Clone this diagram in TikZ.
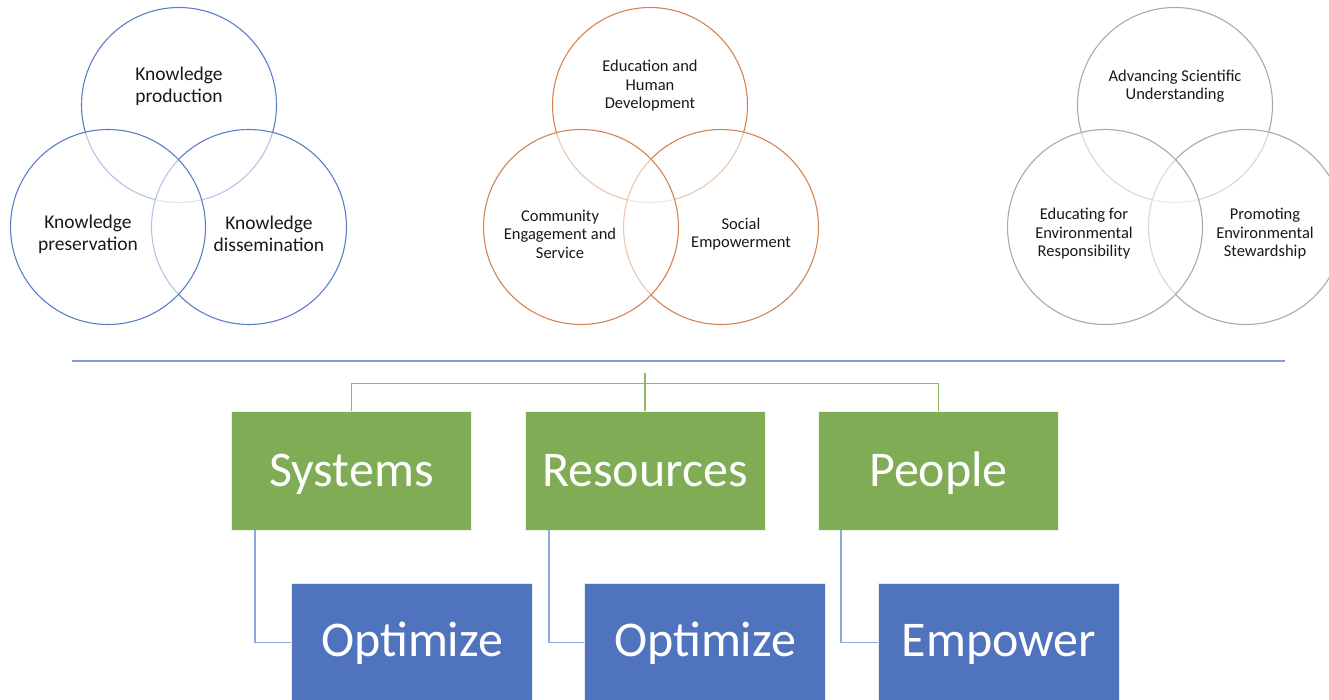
\documentclass[tikz,border=0pt]{standalone}
\usepackage{fontspec}
\setmainfont{Carlito}
\definecolor{vblue}{RGB}{92,126,200}
\definecolor{vorange}{RGB}{212,132,82}
\definecolor{vgray}{RGB}{170,170,170}
\definecolor{sepblue}{RGB}{125,158,214}
\definecolor{boxgreen}{RGB}{127,172,85}
\definecolor{linegreen}{RGB}{140,186,100}
\definecolor{boxblue}{RGB}{80,115,190}
\definecolor{lineblue}{RGB}{140,168,220}
\begin{document}
\begin{tikzpicture}[x=1pt,y=-1pt,
  vc/.style={circle,draw=#1,line width=1.1pt,fill=white,fill opacity=0.55,
    draw opacity=1,minimum size=195pt,inner sep=0pt},
  big/.style={align=center,font=\fontsize{19.5}{22}\selectfont,text=black!90},
  small/.style={align=center,font=\fontsize{16.5}{18.5}\selectfont,text=black!90},
  gbox/.style={rectangle,fill=boxgreen,draw=white!85!boxgreen,line width=0.8pt,
    minimum width=240pt,minimum height=119pt,inner sep=0pt,text=white,
    text height=32pt,text depth=0pt,
    font=\fontsize{50}{60}\selectfont},
  bbox/.style={rectangle,fill=boxblue,draw=white!85!boxblue,line width=0.8pt,
    minimum width=241pt,minimum height=119pt,inner sep=0pt,text=white,
    text height=32pt,text depth=4pt,
    font=\fontsize{50}{60}\selectfont},
  gline/.style={draw=linegreen,line width=1.6pt},
  bline/.style={draw=lineblue,line width=1.6pt},
  sline/.style={draw=sepblue,line width=1.5pt}]
\useasboundingbox (0,0) rectangle (1329,700);
\clip (0,0) rectangle (1329,700);
% left venn
\node[vc=vblue] (LT) at (179,105) {};
\node[vc=vblue] (LR) at (249,227) {};
\node[vc=vblue] (LL) at (108,227) {};
\node[big] (tLT) at (179,86) {Knowledge\\production};
\node[big] (tLL) at (88,234) {Knowledge\\preservation};
\node[big] (tLR) at (269,234) {Knowledge\\dissemination};
% middle venn
\node[vc=vorange] (MT) at (650,105) {};
\node[vc=vorange] (MR) at (721,227) {};
\node[vc=vorange] (ML) at (581,227) {};
\node[small] (tMT) at (650,86) {Education and\\Human\\Development};
\node[small] (tML) at (560,234) {Community\\Engagement and\\Service};
\node[small] (tMR) at (741,234) {Social\\Empowerment};
% right venn
\node[vc=vgray] (RT) at (1175,105) {};
\node[vc=vgray] (RR) at (1246,227) {};
\node[vc=vgray] (RL) at (1105,227) {};
\node[small] (tRT) at (1175,86) {Advancing Scientific\\Understanding};
\node[small] (tRL) at (1084,234) {Educating for\\Environmental\\Responsibility};
\node[small] (tRR) at (1265,234) {Promoting\\Environmental\\Stewardship};
% separator
\coordinate (sepL) at (72,361);
\coordinate (sepR) at (1285,361);
\draw[sline] (sepL) -- (sepR);
% green boxes
\node[gbox] (sys) at (351.5,470.5) {Systems};
\node[gbox] (res) at (645,470.5) {Resources};
\node[gbox] (ppl) at (938.5,470.5) {People};
\coordinate (hub) at (645,373);
\draw[gline] (hub) -- (res.north);
\draw[gline] (sys.north) -- ++(0,-27) -| (ppl.north);
% blue boxes
\node[bbox] (o1) at (412,642.5) {Optimize};
\node[bbox] (o2) at (705,642.5) {Optimize};
\node[bbox] (e1) at (999,642.5) {Empower};
\draw[bline] ([xshift=-96.5pt]sys.south) |- (o1.west);
\draw[bline] ([xshift=-96pt]res.south) |- (o2.west);
\draw[bline] ([xshift=-97.5pt]ppl.south) |- (e1.west);
\end{tikzpicture}
\end{document}
